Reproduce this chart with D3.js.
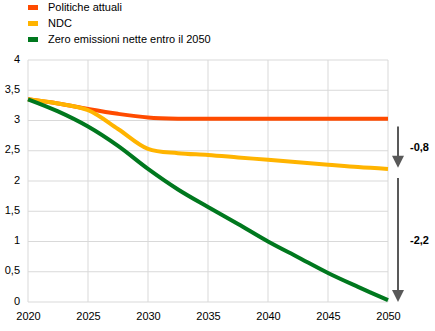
<!DOCTYPE html>
<html><head><meta charset="utf-8">
<script src="https://cdn.jsdelivr.net/npm/d3@7"></script>
<style>body{margin:0;background:#fff}svg{display:block}text{font-family:"Liberation Sans",Arial,sans-serif;fill:#000}</style>
</head><body><svg id="c" width="435" height="331"></svg>
<script>
const years = [2020,2022.5,2025,2027.5,2030,2032.5,2035,2037.5,2040,2042.5,2045,2047.5,2050];
const seriesNames = ["Politiche attuali","NDC","Zero emissioni nette entro il 2050"];
const politicheAttuali = [3.35,3.28,3.19,3.11,3.05,3.03,3.03,3.03,3.03,3.03,3.03,3.03,3.03];
const ndc = [3.35,3.28,3.17,2.86,2.53,2.46,2.43,2.39,2.35,2.31,2.27,2.23,2.2];
const zeroNette = [3.35,3.15,2.9,2.58,2.2,1.86,1.57,1.29,1.0,0.74,0.48,0.25,0.03];
const colors = ["#FF4B00","#FFB400","#00781E"];
const xTicks = [2020,2025,2030,2035,2040,2045,2050];
const yTicks = [0,0.5,1,1.5,2,2.5,3,3.5,4];
const arrowSpans = [[2.9,2.22],[2.05,0]];
const arrowLabels = ["-0,8","-2,2"];

const svg = d3.select("#c");
const x = d3.scaleLinear().domain([2020,2050]).range([28,388]);
const y = d3.scaleLinear().domain([0,4]).range([302,60]);
const fmt = d => String(d).replace(".",",");

// gridlines
svg.append("g").selectAll("line").data(yTicks).join("line")
  .attr("x1",x(2020)).attr("x2",x(2050)).attr("y1",d=>y(d)).attr("y2",d=>y(d))
  .attr("stroke","#d9d9d9").attr("stroke-width",1);
svg.append("g").selectAll("line").data(xTicks).join("line")
  .attr("y1",y(0)).attr("y2",y(4)).attr("x1",d=>x(d)).attr("x2",d=>x(d))
  .attr("stroke","#d9d9d9").attr("stroke-width",1);

// axes labels
const yAxis = d3.axisLeft(y).tickValues(yTicks).tickFormat(fmt).tickSize(0).tickPadding(8);
const gy = svg.append("g").attr("transform",`translate(${x(2020)},0)`).call(yAxis);
gy.select(".domain").remove();
gy.selectAll("text").attr("font-size",11).attr("fill","#000").attr("dy","0.2em").style("font-family","Liberation Sans, Arial, sans-serif");
const xAxis = d3.axisBottom(x).tickValues(xTicks).tickFormat(d=>String(d)).tickSize(0).tickPadding(10);
const gx = svg.append("g").attr("transform",`translate(0,${y(0)})`).call(xAxis);
gx.select(".domain").remove();
gx.selectAll("text").attr("font-size",11).attr("fill","#000").style("font-family","Liberation Sans, Arial, sans-serif");

// lines
const line = d3.line().x((d,i)=>x(years[i])).y(d=>y(d)).curve(d3.curveCatmullRom.alpha(0.5));
[politicheAttuali,ndc,zeroNette].forEach((s,i)=>{
  svg.append("path").attr("d",line(s)).attr("fill","none")
    .attr("stroke",colors[i]).attr("stroke-width",4).attr("stroke-linecap","butt");
});

// arrows
const ax = x(2050)+10;
arrowSpans.forEach((sp,i)=>{
  const y1=y(sp[0]), y2=y(sp[1]);
  svg.append("line").attr("x1",ax).attr("x2",ax).attr("y1",y1).attr("y2",y2-10)
    .attr("stroke","#595959").attr("stroke-width",2);
  svg.append("path").attr("d",`M${ax-6},${y2-12}L${ax+6},${y2-12}L${ax},${y2}Z`).attr("fill","#595959");
  svg.append("text").attr("x",ax+12).attr("y",(y1+y2)/2+4).attr("font-size",11)
    .attr("font-weight","bold").text(arrowLabels[i]);
});

// legend
seriesNames.forEach((n,i)=>{
  const ly = 7 + i*16;
  svg.append("rect").attr("x",28).attr("y",ly-2).attr("width",10).attr("height",5).attr("fill",colors[i]);
  svg.append("text").attr("x",48).attr("y",ly+4).attr("font-size",11).text(n);
});
</script></body></html>
